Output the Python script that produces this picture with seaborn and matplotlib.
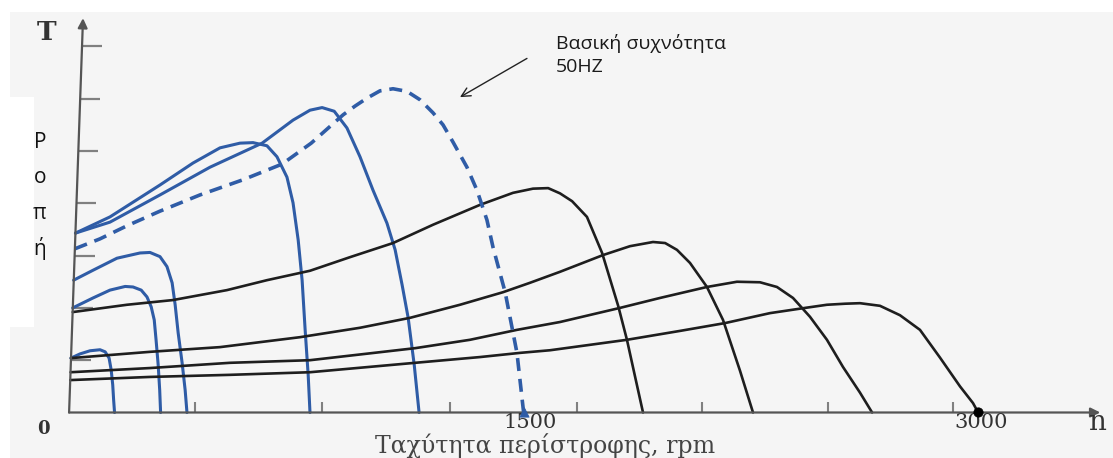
import matplotlib

matplotlib.use("Agg")
import matplotlib.pyplot as plt
import seaborn as sns
from matplotlib.patches import Rectangle

# speed n (rpm) and torque T (in y-tick units)
blue1_n = [6, 36, 69, 102, 119, 132, 139, 144, 147, 150]
blue1_t = [1.04, 1.12, 1.18, 1.20, 1.16, 1.04, 0.81, 0.53, 0.24, 0.0]

blue2_n = [12, 79, 135, 185, 211, 238, 257, 271, 281, 287, 294, 299, 302]
blue2_t = [2.00, 2.19, 2.34, 2.41, 2.40, 2.34, 2.21, 2.02, 1.77, 1.39, 0.91, 0.43, 0.0]

blue3_n = [15, 79, 158, 234, 267, 300, 323, 340, 350, 360, 373, 383, 389]
blue3_t = [2.53, 2.72, 2.95, 3.05, 3.06, 2.98, 2.79, 2.48, 2.06, 1.52, 0.95, 0.43, 0.0]

blue4_n = [21, 135, 300, 409, 498, 564, 607, 653, 686, 719, 739, 756, 769, 779, 789, 795]
blue4_t = [3.43, 3.74, 4.35, 4.77, 5.06, 5.15, 5.16, 5.10, 4.89, 4.50, 4.01, 3.30,
           2.53, 1.58, 0.72, 0.0]

blue5_n = [21, 135, 300, 465, 637, 739, 795, 835, 875, 917, 960, 1003, 1049, 1076,
           1099, 1119, 1139, 1155]
blue5_t = [3.43, 3.64, 4.16, 4.69, 5.15, 5.59, 5.78, 5.83, 5.76, 5.44, 4.89, 4.25,
           3.62, 3.11, 2.44, 1.81, 0.91, 0.0]

# base frequency 50 Hz (dashed)
base_n = [19, 102, 191, 300, 432, 574, 703, 799, 904, 944, 983, 1026, 1069, 1115,
          1158, 1201, 1234, 1267, 1313, 1346, 1379, 1399, 1439, 1478, 1500]
base_t = [3.13, 3.32, 3.57, 3.85, 4.16, 4.45, 4.75, 5.15, 5.69, 5.86, 6.01, 6.15,
          6.19, 6.14, 5.98, 5.73, 5.50, 5.17, 4.69, 4.25, 3.68, 3.16, 2.30, 1.14, 0.0]

black1_n = [12, 191, 343, 521, 653, 795, 927, 1069, 1201, 1356, 1465, 1531, 1581,
            1620, 1660, 1709, 1759, 1812, 1841, 1868, 1894]
black1_t = [1.92, 2.06, 2.15, 2.34, 2.53, 2.71, 2.97, 3.24, 3.59, 3.97, 4.20, 4.28,
            4.29, 4.19, 4.04, 3.74, 3.05, 2.04, 1.39, 0.68, 0.0]

black2_n = [6, 267, 498, 762, 960, 1125, 1290, 1432, 1521, 1620, 1762, 1851, 1927,
            1967, 2006, 2049, 2105, 2158, 2214, 2257]
black2_t = [1.04, 1.16, 1.25, 1.44, 1.62, 1.81, 2.06, 2.30, 2.48, 2.69, 3.01, 3.18,
            3.26, 3.24, 3.11, 2.86, 2.40, 1.77, 0.80, 0.0]

black3_n = [5, 267, 531, 795, 1142, 1323, 1478, 1620, 1818, 1950, 2105, 2204, 2280,
            2336, 2389, 2445, 2501, 2554, 2610, 2650]
black3_t = [0.77, 0.85, 0.95, 1.00, 1.23, 1.39, 1.58, 1.73, 2.00, 2.19, 2.40, 2.50,
            2.49, 2.40, 2.19, 1.83, 1.39, 0.87, 0.38, 0.0]

black4_n = [4, 267, 531, 795, 1142, 1356, 1488, 1587, 1841, 2016, 2165, 2313, 2429,
            2501, 2561, 2610, 2676, 2742, 2808, 2874, 2940, 2983, 3000]
black4_t = [0.62, 0.68, 0.72, 0.77, 0.95, 1.06, 1.14, 1.19, 1.39, 1.56, 1.71, 1.90,
            2.00, 2.06, 2.08, 2.09, 2.04, 1.86, 1.58, 1.05, 0.50, 0.18, 0.0]

xtick_vals = [416, 835, 1257, 1676, 2089, 2505, 2917]
ytick_vals = [1, 2, 3, 4, 5, 6, 7]
xtick_labels = ["1500", "3000"]
xtick_label_pos = [1521, 3010]
xlabel = "Ταχύτητα περίστροφης, rpm"
ylabel_chars = ["Ρ", "ο", "π", "ή"]
note = "Βασική συχνότητα\n50HZ"

BLUE = "#2f5ca6"
BLACK = "#1e1e1e"
AXIS = "#555555"

sns.set_theme(style="white")
plt.rcParams["font.family"] = ["DejaVu Sans"]

fig = plt.figure(figsize=(11.13, 4.58), dpi=100, facecolor="white")
W, H = 1113.0, 458.0
# light grey scan background, white strip on top/left and white box behind the y label
fig.add_artist(Rectangle((10 / W, 0), 1, (H - 12) / H, transform=fig.transFigure,
                         facecolor="#f5f5f5", edgecolor="none", zorder=0))
fig.add_artist(Rectangle((0, (H - 327) / H), 34 / W, 230 / H, transform=fig.transFigure,
                         facecolor="white", edgecolor="none", zorder=0))

ax = fig.add_axes([0, 0, 1, 1])
ax.set_facecolor("none")
ax.set_axis_off()
ax.set_xlim(-228, 3445)
ax.set_ylim(-0.870, 7.887)

# axes with arrows (y axis slightly tilted like the scan)
top_t = 7.54
ax.annotate("", xy=(46, top_t), xytext=(0, 0),
            arrowprops=dict(arrowstyle="-|>", color=AXIS, lw=1.6, mutation_scale=14,
                            shrinkA=0, shrinkB=0))
ax.annotate("", xy=(3403, 0), xytext=(0, 0),
            arrowprops=dict(arrowstyle="-|>", color=AXIS, lw=1.6, mutation_scale=14,
                            shrinkA=0, shrinkB=0))
y0 = [46 * v / top_t for v in ytick_vals]
ax.hlines(ytick_vals, y0, [v + 66 for v in y0], color="#808080", lw=1.6)
ax.vlines(xtick_vals, 0, 0.2, color="#808080", lw=1.5)

curves = [
    (blue1_n, blue1_t, BLUE), (blue2_n, blue2_t, BLUE), (blue3_n, blue3_t, BLUE),
    (blue4_n, blue4_t, BLUE), (blue5_n, blue5_t, BLUE),
    (black1_n, black1_t, BLACK), (black2_n, black2_t, BLACK),
    (black3_n, black3_t, BLACK), (black4_n, black4_t, BLACK),
]
for n, t, c in curves:
    sns.lineplot(x=n, y=t, sort=False, estimator=None, color=c,
                 lw=2.2 if c == BLUE else 1.9, solid_joinstyle="round", ax=ax)

sns.lineplot(x=base_n, y=base_t, sort=False, estimator=None, color=BLUE, lw=2.6,
             linestyle=(0, (3.6, 2.2)), ax=ax)
sns.scatterplot(x=[base_n[-1]], y=[base_t[-1]], marker="^", s=45, color=BLUE,
                edgecolor=BLUE, ax=ax, zorder=5)
sns.scatterplot(x=[black4_n[-1]], y=[black4_t[-1]], marker="o", s=45, color="black",
                edgecolor="black", ax=ax, zorder=5)

# labels
serif = ["DejaVu Serif"]
ax.text(-74, 7.27, "T", family=serif, fontsize=19, fontweight="bold", color="#333333",
        ha="center", va="center")
ax.text(-86, -0.31, "0", family=serif, fontsize=13, fontweight="bold", color="#333333",
        ha="center", va="center")
ax.text(3393, -0.20, "n", family=serif, fontsize=20, color="#333333",
        ha="center", va="center")
for lab, pos in zip(xtick_labels, xtick_label_pos):
    ax.text(pos, -0.19, lab, family=serif, fontsize=15, color="#333333",
            ha="center", va="center")
ax.text(1571, -0.63, xlabel, family=serif, fontsize=17, color="#444444",
        ha="center", va="center")

sans = ["Open Sans", "DejaVu Sans"]
for i, ch in enumerate(ylabel_chars):
    ax.text(-96, 5.17 - i * 0.68, ch, family=sans, fontsize=15, color="#111111",
            ha="center", va="center")

ax.text(1607, 7.24, note, family=sans, fontsize=14, color="#1a1a1a",
        ha="left", va="top", linespacing=1.35)
ax.annotate("", xy=(1290, 6.03), xytext=(1511, 6.77),
            arrowprops=dict(arrowstyle="->", color="#222222", lw=1.0,
                            mutation_scale=16, shrinkA=0, shrinkB=0))

fig.savefig("out.png", dpi=100, facecolor=fig.get_facecolor())
